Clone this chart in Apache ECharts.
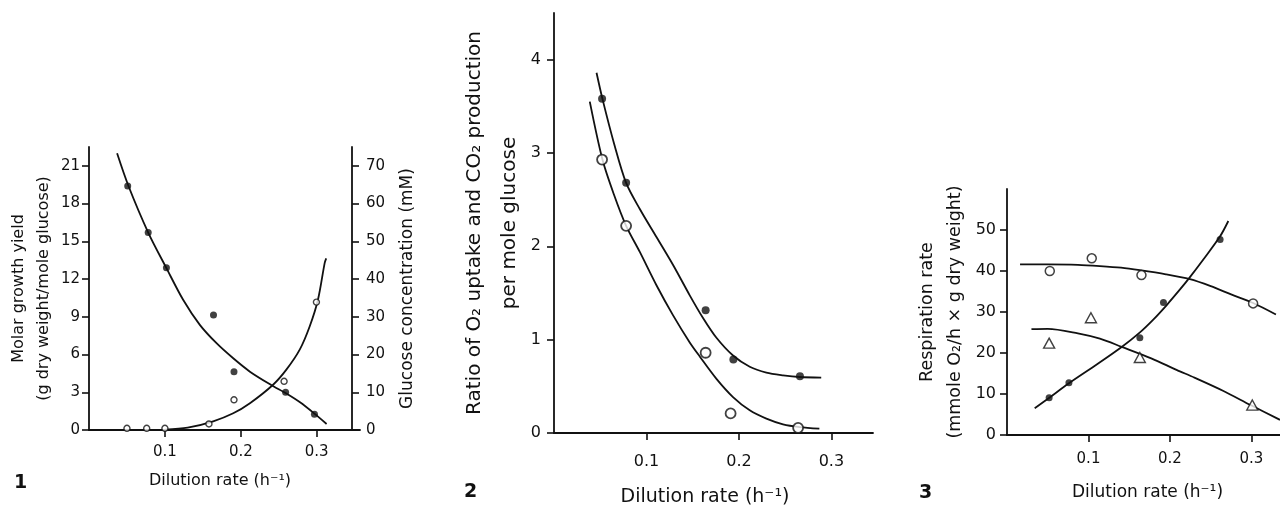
<!DOCTYPE html>
<html><head><meta charset="utf-8">
<script src="https://cdn.jsdelivr.net/npm/echarts@6/dist/echarts.min.js"></script>
<style>html,body{margin:0;padding:0;background:#fff}#c{width:1280px;height:508px}</style>
</head><body><div id="c"></div>
<script>
// ---------- Panel 1 ----------
const p1XTicks = [0.1, 0.2, 0.3];
const p1YieldTicks = [0, 3, 6, 9, 12, 15, 18, 21];
const p1GlucTicks = [0, 10, 20, 30, 40, 50, 60, 70];
const p1YieldPts = [[0.051,19.4],[0.078,15.7],[0.102,12.9],[0.164,9.15],[0.191,4.64],[0.259,3.0],[0.297,1.25]];
const p1GlucPts = [[0.050,0.45],[0.076,0.45],[0.100,0.45],[0.158,1.6],[0.191,8.0],[0.257,12.9],[0.2996,33.9]];
const p1YieldCurve = [[0.037,22.0],[0.052,19.4],[0.078,15.7],[0.102,12.87],[0.124,10.35],[0.146,8.36],[0.168,6.9],[0.19,5.7],[0.212,4.64],[0.24,3.58],[0.26,2.9],[0.278,2.2],[0.297,1.3],[0.313,0.48]];
const p1GlucCurve = [[0.100,0.1],[0.13,0.6],[0.1636,2.3],[0.19,4.43],[0.212,7.1],[0.2425,12.0],[0.26,16.0],[0.2776,21.3],[0.2908,27.5],[0.3017,34.6],[0.3105,44.3],[0.3125,45.5]];

// ---------- Panel 2 ----------
const p2XTicks = [0.1, 0.2, 0.3];
const p2YTicks = [0, 1, 2, 3, 4];
const p2O2Pts = [[0.052,3.58],[0.078,2.68],[0.164,1.315],[0.194,0.787],[0.266,0.607]];
const p2CO2Pts = [[0.052,2.93],[0.078,2.22],[0.164,0.86],[0.191,0.21],[0.264,0.055]];
const p2O2Curve = [[0.046,3.86],[0.0524,3.58],[0.065,3.1],[0.078,2.68],[0.0928,2.4],[0.1108,2.10],[0.1288,1.80],[0.1468,1.475],[0.161,1.235],[0.1757,1.02],[0.1936,0.83],[0.2117,0.71],[0.2297,0.647],[0.2477,0.618],[0.2657,0.6],[0.289,0.594]];
const p2CO2Curve = [[0.0387,3.55],[0.0524,2.93],[0.065,2.55],[0.078,2.22],[0.0928,1.94],[0.1108,1.583],[0.1288,1.26],[0.1468,0.97],[0.1576,0.82],[0.1757,0.58],[0.1936,0.385],[0.2117,0.243],[0.2297,0.154],[0.2477,0.093],[0.2657,0.064],[0.287,0.047]];

// ---------- Panel 3 ----------
const p3XTicks = [0.1, 0.2, 0.3];
const p3YTicks = [0, 10, 20, 30, 40, 50];
const p3FilledPts = [[0.0517,9.1],[0.076,12.76],[0.163,23.7],[0.192,32.3],[0.2615,47.7]];
const p3OpenPts = [[0.0525,40.0],[0.104,43.1],[0.165,39.0],[0.302,32.1]];
const p3TriPts = [[0.0517,22.4],[0.103,28.6],[0.163,18.9],[0.301,7.3]];
const p3FilledCurve = [[0.034,6.5],[0.052,9.1],[0.076,12.6],[0.111,17.3],[0.1407,21.45],[0.1624,24.9],[0.1795,28.15],[0.196,31.7],[0.2123,35.5],[0.2245,38.5],[0.2409,42.8],[0.2613,48.4],[0.2716,52.2]];
const p3OpenCurve = [[0.016,41.6],[0.05,41.6],[0.087,41.5],[0.114,41.2],[0.14,40.8],[0.163,40.2],[0.195,39.2],[0.2245,38.0],[0.25,36.3],[0.275,34.3],[0.302,32.2],[0.33,29.4]];
const p3TriCurve = [[0.030,25.8],[0.05,25.9],[0.087,24.8],[0.114,23.5],[0.1407,21.5],[0.177,18.7],[0.208,15.9],[0.23,14.0],[0.265,10.8],[0.299,7.3],[0.335,3.7]];

const FONT = 'DejaVu Sans';
const INK = '#111';
const axLine = {show:true, lineStyle:{color:INK, width:1.8}};
const axTick = (vals)=>({show:true, length:7, lineStyle:{color:INK, width:1.6}, customValues: vals});
const axLabel = (vals, size, margin, fmt)=>({show:true, color:INK, fontFamily:FONT, fontSize:size, margin:margin, customValues: vals, formatter: fmt});

function xAx(grid, max, ticks, size, margin, nameSize, gap, pad){
  return {type:'value', gridIndex:grid, min:0, max:max, splitLine:{show:false},
    axisLine:axLine, axisTick:axTick(ticks), axisLabel:axLabel(ticks,size,margin,v=>v.toFixed(1)),
    name:'Dilution rate (h\u207B\u00B9)', nameLocation:'middle', nameGap:gap,
    nameTextStyle:{color:INK, fontFamily:FONT, fontSize:nameSize, padding:pad}};
}
function yAx(grid, max, ticks, size, margin, name, nameSize, lh, gap, pos, offset){
  return {type:'value', gridIndex:grid, min:0, max:max, position:pos||'left', offset:offset||0,
    splitLine:{show:false},
    axisLine:axLine, axisTick:axTick(ticks), axisLabel:axLabel(ticks,size,margin,v=>String(v)),
    name:name, nameLocation:'middle', nameRotate:90, nameGap:gap,
    nameTextStyle:{color:INK, fontFamily:FONT, fontSize:nameSize, lineHeight:lh}};
}
const curve = (x,y,data)=>({type:'line', xAxisIndex:x, yAxisIndex:y, data:data, smooth:0.3,
  showSymbol:false, symbol:'none', lineStyle:{color:INK, width:1.8}, z:2, silent:true});
const pts = (x,y,data,sym,size,filled,bw)=>({type:'scatter', xAxisIndex:x, yAxisIndex:y, data:data, symbol:sym, symbolSize:size,
  itemStyle: filled ? {color:INK} : {color:'#fff', borderColor:INK, borderWidth:bw}, z:5, silent:true});

const chart = echarts.init(document.getElementById('c'), null, {renderer:'canvas'});
chart.setOption({
  backgroundColor:'#fff',
  animation:false,
  grid:[
    {left:89, top:147, width:271, height:283, outerBoundsMode:'none'},
    {left:554, top:13, width:319, height:420, outerBoundsMode:'none'},
    {left:1007, top:189, width:273, height:246, outerBoundsMode:'none'}
  ],
  xAxis:[
    xAx(0, 0.357, p1XTicks, 15, 15, 16, 43, [0,9,0,0]),
    xAx(1, 0.345, p2XTicks, 16, 21, 19, 55, [0,17,0,0]),
    xAx(2, 0.335, p3XTicks, 15, 17, 17, 49, [0,0,0,8])
  ],
  yAxis:[
    yAx(0, 22.5, p1YieldTicks, 15, 9, 'Molar growth yield\n(g dry weight/mole glucose)', 16, 25, 33, 'left'),
    yAx(0, 75, p1GlucTicks, 15, 14, 'Glucose concentration (mM)', 17, 18, 47, 'right', -8),
    yAx(1, 4.5, p2YTicks, 16, 13, 'Ratio of O\u2082 uptake and CO\u2082 production\nper mole glucose', 20, 35, 27, 'left'),
    yAx(2, 60, p3YTicks, 16, 11, 'Respiration rate\n(mmole O\u2082/h \u00D7 g dry weight)', 17.5, 28, 38, 'left')
  ],
  graphic:[
    {type:'text', left:14, top:474, style:{text:'1', font:'bold 19px "DejaVu Sans"', fill:INK}},
    {type:'text', left:464, top:483, style:{text:'2', font:'bold 19px "DejaVu Sans"', fill:INK}},
    {type:'text', left:919, top:484, style:{text:'3', font:'bold 19px "DejaVu Sans"', fill:INK}}
  ],
  series:[
    curve(0,0,p1YieldCurve),
    curve(0,1,p1GlucCurve),
    pts(0,0,p1YieldPts,'circle',7,true),
    pts(0,1,p1GlucPts,'circle',6,false,1.4),
    curve(1,2,p2O2Curve),
    curve(1,2,p2CO2Curve),
    pts(1,2,p2O2Pts,'circle',8,true),
    pts(1,2,p2CO2Pts,'circle',10,false,1.8),
    curve(2,3,p3FilledCurve),
    curve(2,3,p3OpenCurve),
    curve(2,3,p3TriCurve),
    pts(2,3,p3FilledPts,'circle',7,true),
    pts(2,3,p3OpenPts,'circle',9,false,1.5),
    pts(2,3,p3TriPts,'triangle',[11,10],false,1.4)
  ]
});
</script></body></html>
